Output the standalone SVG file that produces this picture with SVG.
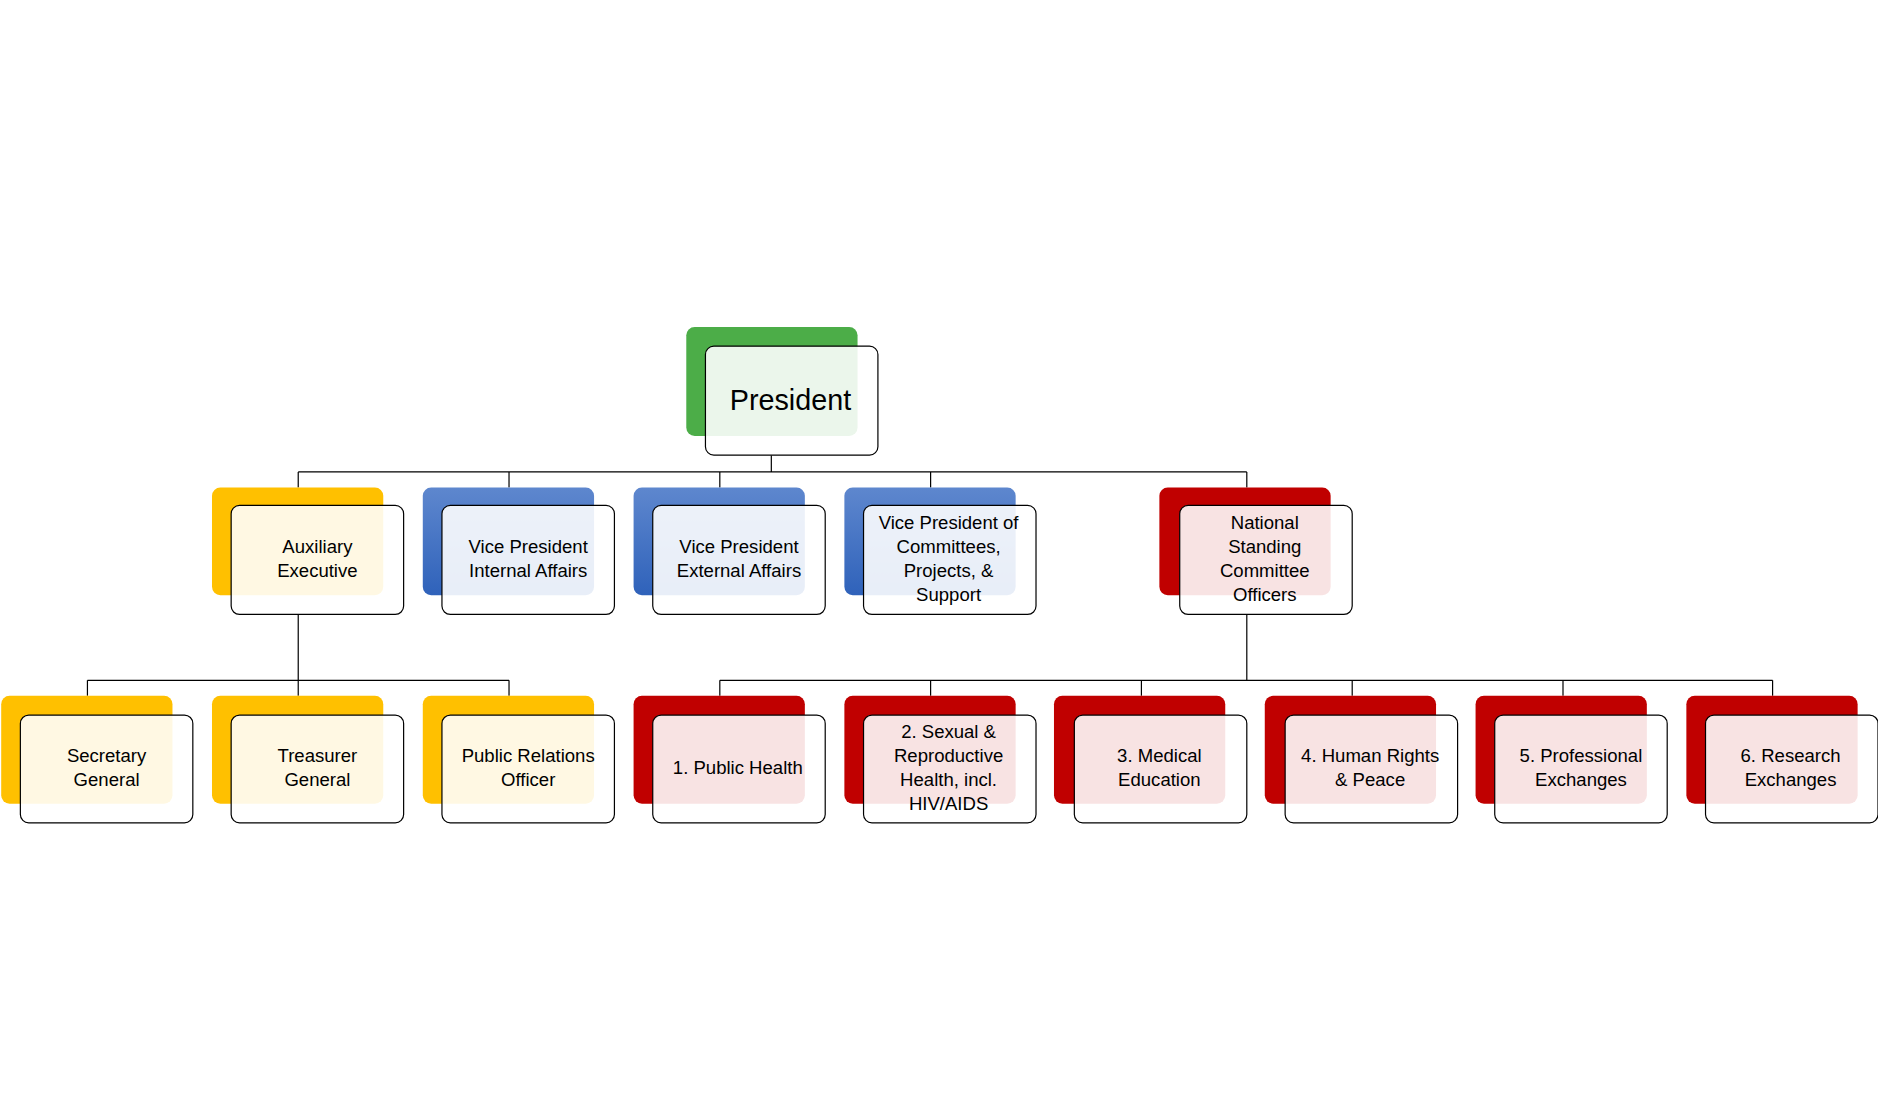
<svg xmlns="http://www.w3.org/2000/svg" width="1878" height="1101" viewBox="0 0 1878 1101">
<defs>
<linearGradient id="bl" x1="0" y1="0" x2="0" y2="1"><stop offset="0" stop-color="#5E87CE"/><stop offset="1" stop-color="#2F62BA"/></linearGradient>
<style>
.f{fill:#fff;fill-opacity:0.89;stroke:#000;stroke-width:1}
.g{fill:#4CAD48}.y{fill:#FFC000}.b{fill:url(#bl)}.r{fill:#C00000}
text{font-family:"Liberation Sans",Arial,sans-serif;font-size:15.5px;fill:#000;text-anchor:middle}
.c{fill:none;stroke:#000;stroke-width:1}
</style>
</defs>
<rect width="1878" height="1101" fill="#fff"/>
<g transform="scale(1.1977)">
<g id="connectors">
<path class="c" d="M644 380V394M249 394H1041M249 394V407M425 394V407M601 394V407M777 394V407M1041 394V407"/>
<path class="c" d="M249 513V568M73 568H425M73 568V581M249 568V581M425 568V581"/>
<path class="c" d="M1041 513V568M601 568H1480M601 568V581M777 568V581M953 568V581M1129 568V581M1305 568V581M1480 568V581"/>
</g>
<g id="president"><rect class="g" x="573" y="273" width="143" height="91" rx="7"/><rect class="f" x="589" y="289" width="144" height="91" rx="7"/><text x="660" y="342" style="font-size:24px">President</text></g>
<g id="aux"><rect class="y" x="177" y="407" width="143" height="90" rx="7"/><rect class="f" x="193" y="422" width="144" height="91" rx="7"/><text x="265" y="462">Auxiliary</text><text x="265" y="482">Executive</text></g>
<g id="vpi"><rect class="b" x="353" y="407" width="143" height="90" rx="7"/><rect class="f" x="369" y="422" width="144" height="91" rx="7"/><text x="441" y="462">Vice President</text><text x="441" y="482">Internal Affairs</text></g>
<g id="vpe"><rect class="b" x="529" y="407" width="143" height="90" rx="7"/><rect class="f" x="545" y="422" width="144" height="91" rx="7"/><text x="617" y="462">Vice President</text><text x="617" y="482">External Affairs</text></g>
<g id="vpc"><rect class="b" x="705" y="407" width="143" height="90" rx="7"/><rect class="f" x="721" y="422" width="144" height="91" rx="7"/><text x="792" y="442">Vice President of</text><text x="792" y="462">Committees,</text><text x="792" y="482">Projects, &amp;</text><text x="792" y="502">Support</text></g>
<g id="nsc"><rect class="r" x="968" y="407" width="143" height="90" rx="7"/><rect class="f" x="985" y="422" width="144" height="91" rx="7"/><text x="1056" y="442">National</text><text x="1056" y="462">Standing</text><text x="1056" y="482">Committee</text><text x="1056" y="502">Officers</text></g>
<g id="sec"><rect class="y" x="1" y="581" width="143" height="90" rx="7"/><rect class="f" x="17" y="597" width="144" height="90" rx="7"/><text x="89" y="636">Secretary</text><text x="89" y="656">General</text></g>
<g id="tre"><rect class="y" x="177" y="581" width="143" height="90" rx="7"/><rect class="f" x="193" y="597" width="144" height="90" rx="7"/><text x="265" y="636">Treasurer</text><text x="265" y="656">General</text></g>
<g id="pro"><rect class="y" x="353" y="581" width="143" height="90" rx="7"/><rect class="f" x="369" y="597" width="144" height="90" rx="7"/><text x="441" y="636">Public Relations</text><text x="441" y="656">Officer</text></g>
<g id="c1"><rect class="r" x="529" y="581" width="143" height="90" rx="7"/><rect class="f" x="545" y="597" width="144" height="90" rx="7"/><text x="616" y="646">1. Public Health</text></g>
<g id="c2"><rect class="r" x="705" y="581" width="143" height="90" rx="7"/><rect class="f" x="721" y="597" width="144" height="90" rx="7"/><text x="792" y="616">2. Sexual &amp;</text><text x="792" y="636">Reproductive</text><text x="792" y="656">Health, incl.</text><text x="792" y="676">HIV/AIDS</text></g>
<g id="c3"><rect class="r" x="880" y="581" width="143" height="90" rx="7"/><rect class="f" x="897" y="597" width="144" height="90" rx="7"/><text x="968" y="636">3. Medical</text><text x="968" y="656">Education</text></g>
<g id="c4"><rect class="r" x="1056" y="581" width="143" height="90" rx="7"/><rect class="f" x="1073" y="597" width="144" height="90" rx="7"/><text x="1144" y="636">4. Human Rights</text><text x="1144" y="656">&amp; Peace</text></g>
<g id="c5"><rect class="r" x="1232" y="581" width="143" height="90" rx="7"/><rect class="f" x="1248" y="597" width="144" height="90" rx="7"/><text x="1320" y="636">5. Professional</text><text x="1320" y="656">Exchanges</text></g>
<g id="c6"><rect class="r" x="1408" y="581" width="143" height="90" rx="7"/><rect class="f" x="1424" y="597" width="144" height="90" rx="7"/><text x="1495" y="636">6. Research</text><text x="1495" y="656">Exchanges</text></g>
</g>
</svg>
